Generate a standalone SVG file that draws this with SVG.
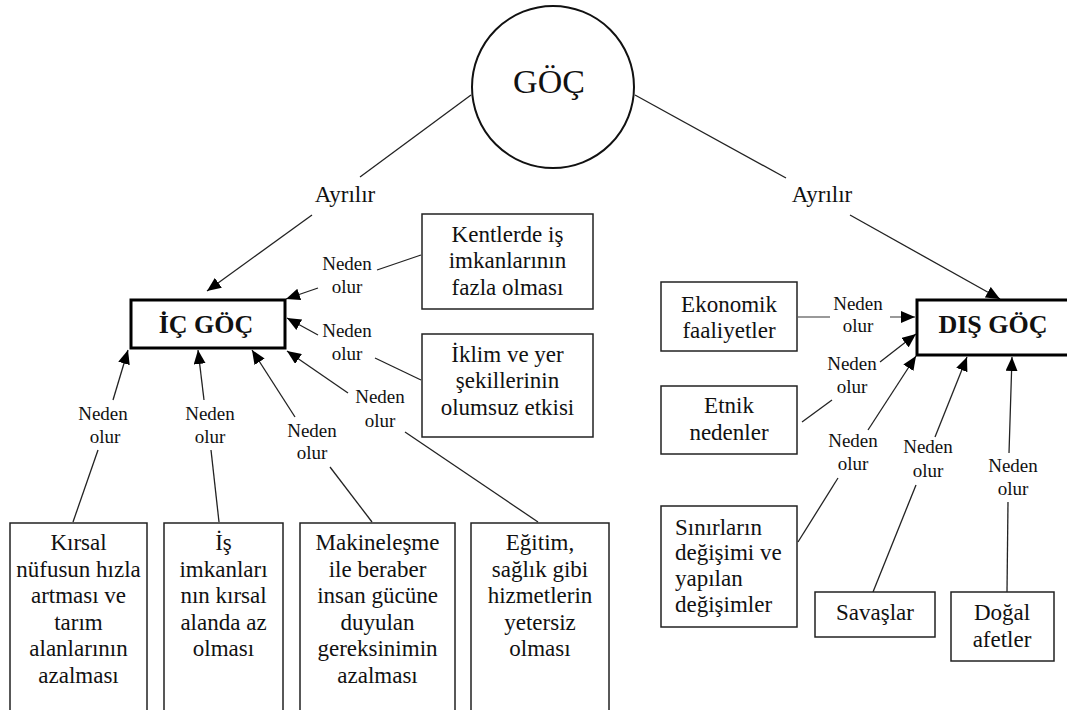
<svg xmlns="http://www.w3.org/2000/svg" width="1067" height="710" viewBox="0 0 1067 710" font-family="'Liberation Serif', 'Times New Roman', serif">
  <style>
    text { font-family: 'Liberation Serif', 'Times New Roman', serif; fill: #111; }
    .box { fill: #fff; stroke: #222; stroke-width: 1.5; }
    .main { fill: #fff; stroke: #000; stroke-width: 3; }
    .t { font-size: 23px; text-anchor: middle; }
    .tl { font-size: 23px; text-anchor: start; }
    .lbl { font-size: 19px; text-anchor: middle; }
    .head { font-size: 26px; font-weight: bold; text-anchor: middle; }
    .ln { stroke: #222; stroke-width: 1.3; fill: none; }
    .arr { stroke: #222; stroke-width: 1.3; fill: none; marker-end: url(#ah); }
    .gln { stroke: #999; stroke-width: 2; fill: none; }
    .garr { stroke: #999; stroke-width: 2; fill: none; marker-end: url(#ah); }
  </style>
  <defs>
    <marker id="ah" markerUnits="userSpaceOnUse" markerWidth="14" markerHeight="12" viewBox="0 0 14 12" refX="14" refY="6" orient="auto">
      <path d="M0,0 L14,6 L0,12 Z" fill="#000"/>
    </marker>
  </defs>

  <rect width="1067" height="710" fill="#fff"/>

  <!-- connectors and their labels -->
  <g id="connectors">
    <line class="ln" x1="471" y1="95" x2="360" y2="177"/>
    <line class="arr" x1="312" y1="215" x2="207" y2="291"/>
    <line class="ln" x1="635" y1="95" x2="786" y2="178"/>
    <line class="arr" x1="850" y1="215" x2="1000" y2="299"/>
    <text class="t" x="345" y="202">Ayrılır</text>
    <text class="t" x="822" y="202">Ayrılır</text>

    <line class="ln" x1="421" y1="255" x2="377" y2="270"/>
    <line class="arr" x1="318" y1="288" x2="286" y2="299"/>
    <text class="lbl" x="347" y="270">Neden</text>
    <text class="lbl" x="347" y="293">olur</text>

    <line class="ln" x1="421" y1="380" x2="375" y2="358"/>
    <line class="arr" x1="318" y1="335" x2="287" y2="318"/>
    <text class="lbl" x="347" y="337">Neden</text>
    <text class="lbl" x="347" y="360">olur</text>

    <line class="ln" x1="405" y1="432" x2="538" y2="522"/>
    <line class="arr" x1="348" y1="393" x2="287" y2="351"/>
    <text class="lbl" x="380" y="403">Neden</text>
    <text class="lbl" x="380" y="427">olur</text>

    <line class="ln" x1="98" y1="450" x2="73" y2="522"/>
    <line class="arr" x1="113" y1="400" x2="128" y2="350"/>
    <text class="lbl" x="103" y="420">Neden</text>
    <text class="lbl" x="105" y="443">olur</text>

    <line class="ln" x1="211" y1="450" x2="219" y2="522"/>
    <line class="arr" x1="204" y1="400" x2="198" y2="350"/>
    <text class="lbl" x="210" y="420">Neden</text>
    <text class="lbl" x="210" y="443">olur</text>

    <line class="ln" x1="330" y1="467" x2="372" y2="522"/>
    <line class="arr" x1="295" y1="417" x2="252" y2="350"/>
    <text class="lbl" x="312" y="437">Neden</text>
    <text class="lbl" x="312" y="459">olur</text>

    <line class="gln" x1="798" y1="317" x2="830" y2="317"/>
    <line class="garr" x1="890" y1="317" x2="915" y2="317"/>
    <text class="lbl" x="858" y="310">Neden</text>
    <text class="lbl" x="858" y="332">olur</text>

    <line class="ln" x1="802" y1="422" x2="832" y2="400"/>
    <line class="arr" x1="880" y1="362" x2="916" y2="334"/>
    <text class="lbl" x="852" y="370">Neden</text>
    <text class="lbl" x="852" y="393">olur</text>

    <line class="ln" x1="798" y1="542" x2="838" y2="478"/>
    <line class="arr" x1="868" y1="430" x2="916" y2="356"/>
    <text class="lbl" x="853" y="447">Neden</text>
    <text class="lbl" x="853" y="470">olur</text>

    <line class="ln" x1="873" y1="592" x2="916" y2="485"/>
    <line class="arr" x1="935" y1="437" x2="967" y2="357"/>
    <text class="lbl" x="928" y="453">Neden</text>
    <text class="lbl" x="928" y="477">olur</text>

    <line class="ln" x1="1007" y1="592" x2="1008" y2="502"/>
    <line class="arr" x1="1009" y1="453" x2="1012" y2="357"/>
    <text class="lbl" x="1013" y="472">Neden</text>
    <text class="lbl" x="1013" y="495">olur</text>
  </g>

  <!-- root -->
  <g id="goc">
    <circle cx="553" cy="87" r="81" fill="#fff" stroke="#111" stroke-width="2"/>
    <text x="549" y="93" font-size="34" text-anchor="middle">GÖÇ</text>
  </g>

  <g id="ic-goc">
    <rect class="main" x="131" y="300" width="154" height="48"/>
    <text class="head" x="206" y="333">İÇ GÖÇ</text>
  </g>

  <g id="dis-goc">
    <rect class="main" x="917" y="300" width="160" height="55"/>
    <text class="head" x="993" y="333">DIŞ GÖÇ</text>
  </g>

  <g id="kentlerde">
    <rect class="box" x="422" y="214" width="171" height="95"/>
    <text class="t" x="507.5" y="242">Kentlerde iş</text>
    <text class="t" x="507.5" y="268">imkanlarının</text>
    <text class="t" x="507.5" y="295">fazla olması</text>
  </g>

  <g id="iklim">
    <rect class="box" x="422" y="334" width="171" height="103"/>
    <text class="t" x="507.5" y="362">İklim ve yer</text>
    <text class="t" x="507.5" y="388">şekillerinin</text>
    <text class="t" x="507.5" y="415">olumsuz etkisi</text>
  </g>

  <g id="kirsal">
    <rect class="box" x="10" y="523" width="137" height="200"/>
    <text class="t" x="78.5" y="550">Kırsal</text>
    <text class="t" x="78.5" y="576.5">nüfusun hızla</text>
    <text class="t" x="78.5" y="603">artması ve</text>
    <text class="t" x="78.5" y="629.5">tarım</text>
    <text class="t" x="78.5" y="656">alanlarının</text>
    <text class="t" x="78.5" y="682.5">azalması</text>
  </g>

  <g id="is-imkanlari">
    <rect class="box" x="164" y="523" width="119" height="200"/>
    <text class="t" x="223.5" y="550">İş</text>
    <text class="t" x="223.5" y="576.5">imkanları</text>
    <text class="t" x="223.5" y="603">nın kırsal</text>
    <text class="t" x="223.5" y="629.5">alanda az</text>
    <text class="t" x="223.5" y="656">olması</text>
  </g>

  <g id="makinelesme">
    <rect class="box" x="300" y="523" width="155" height="200"/>
    <text class="t" x="377.5" y="550">Makineleşme</text>
    <text class="t" x="377.5" y="576.5">ile beraber</text>
    <text class="t" x="377.5" y="603">insan gücüne</text>
    <text class="t" x="377.5" y="629.5">duyulan</text>
    <text class="t" x="377.5" y="656">gereksinimin</text>
    <text class="t" x="377.5" y="682.5">azalması</text>
  </g>

  <g id="egitim">
    <rect class="box" x="471" y="523" width="138" height="200"/>
    <text class="t" x="540" y="550">Eğitim,</text>
    <text class="t" x="540" y="576.5">sağlık gibi</text>
    <text class="t" x="540" y="603">hizmetlerin</text>
    <text class="t" x="540" y="629.5">yetersiz</text>
    <text class="t" x="540" y="656">olması</text>
  </g>

  <g id="ekonomik">
    <rect class="box" x="661" y="282" width="136" height="69"/>
    <text class="t" x="729" y="312">Ekonomik</text>
    <text class="t" x="729" y="338">faaliyetler</text>
  </g>

  <g id="etnik">
    <rect class="box" x="661" y="386" width="136" height="68"/>
    <text class="t" x="729" y="413">Etnik</text>
    <text class="t" x="729" y="440">nedenler</text>
  </g>

  <g id="sinirlar">
    <rect class="box" x="661" y="506" width="136" height="121"/>
    <text class="tl" x="675" y="535">Sınırların</text>
    <text class="tl" x="675" y="560">değişimi ve</text>
    <text class="tl" x="675" y="586">yapılan</text>
    <text class="tl" x="675" y="612">değişimler</text>
  </g>

  <g id="savaslar">
    <rect class="box" x="815" y="592" width="120" height="45"/>
    <text class="t" x="875" y="620">Savaşlar</text>
  </g>

  <g id="dogal">
    <rect class="box" x="951" y="592" width="103" height="69"/>
    <text class="t" x="1002" y="620">Doğal</text>
    <text class="t" x="1002" y="647">afetler</text>
  </g>
</svg>
